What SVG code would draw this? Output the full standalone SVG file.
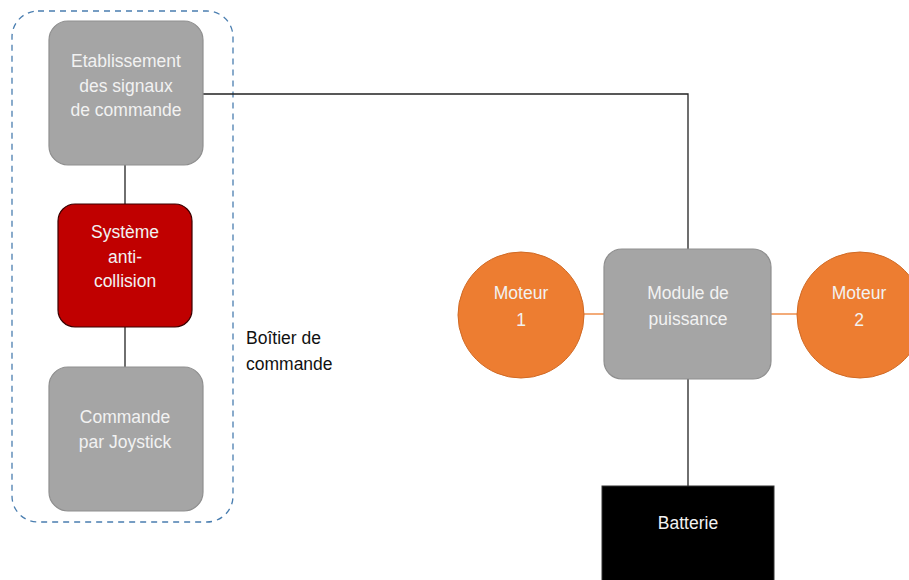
<svg xmlns="http://www.w3.org/2000/svg" width="909" height="580" viewBox="0 0 909 580">
<style>
.gray{fill:#a5a5a5;stroke:#8f8f8f;stroke-width:1.2}
.red{fill:#c00000;stroke:#3a0000;stroke-width:1.2}
.orange{fill:#ed7d31;stroke:#d06a25;stroke-width:1}
.t{font-family:"Liberation Sans",Arial,sans-serif;font-size:17.5px;text-anchor:middle;fill:#f2f2f2}
.lbl{font-family:"Liberation Sans",Arial,sans-serif;font-size:17.5px;fill:#111}
.wire{stroke:#222;stroke-width:1.3;fill:none}
.owire{stroke:#ed7d31;stroke-width:1.3;fill:none}
</style>
<rect width="909" height="580" fill="#ffffff"/>
<g id="boitier">
<rect x="12" y="11" width="221" height="511" rx="26" fill="none" stroke="#4a7eb0" stroke-width="1.3" stroke-dasharray="6,5"/>
<text class="lbl"><tspan x="246" y="344">Boîtier de</tspan><tspan x="246" y="370">commande</tspan></text>
</g>
<g id="connectors">
<line class="wire" x1="125" y1="165" x2="125" y2="204"/>
<line class="wire" x1="125" y1="327" x2="125" y2="367"/>
<polyline class="wire" points="203,94 688,94 688,249"/>
<line class="wire" x1="688" y1="379" x2="688" y2="486" stroke="#444"/>
<line class="owire" x1="584" y1="314" x2="604" y2="314"/>
<line class="owire" x1="771" y1="314" x2="797" y2="314"/>
</g>
<g id="etablissement">
<rect class="gray" x="49" y="21" width="154" height="144" rx="19"/>
<text class="t"><tspan x="126" y="67">Etablissement</tspan><tspan x="126" y="92">des signaux</tspan><tspan x="126" y="116">de commande</tspan></text>
</g>
<g id="anticollision">
<rect class="red" x="58" y="204" width="134" height="123" rx="17"/>
<text class="t"><tspan x="125" y="238">Système</tspan><tspan x="125" y="263">anti-</tspan><tspan x="125" y="287">collision</tspan></text>
</g>
<g id="joystick">
<rect class="gray" x="49" y="367" width="154" height="144" rx="19"/>
<text class="t"><tspan x="125" y="423">Commande</tspan><tspan x="125" y="448">par Joystick</tspan></text>
</g>
<g id="module">
<rect class="gray" x="604" y="249" width="167" height="130" rx="18"/>
<text class="t"><tspan x="688" y="299">Module de</tspan><tspan x="688" y="325">puissance</tspan></text>
</g>
<g id="moteur1">
<circle class="orange" cx="521" cy="315" r="63"/>
<text class="t"><tspan x="521" y="299">Moteur</tspan><tspan x="521" y="326">1</tspan></text>
</g>
<g id="moteur2">
<circle class="orange" cx="860" cy="315" r="63"/>
<text class="t"><tspan x="859" y="299">Moteur</tspan><tspan x="859" y="326">2</tspan></text>
</g>
<g id="batterie">
<rect x="602" y="486" width="172" height="100" fill="#000" stroke="#333" stroke-width="1"/>
<text class="t" x="688" y="529">Batterie</text>
</g>
</svg>
